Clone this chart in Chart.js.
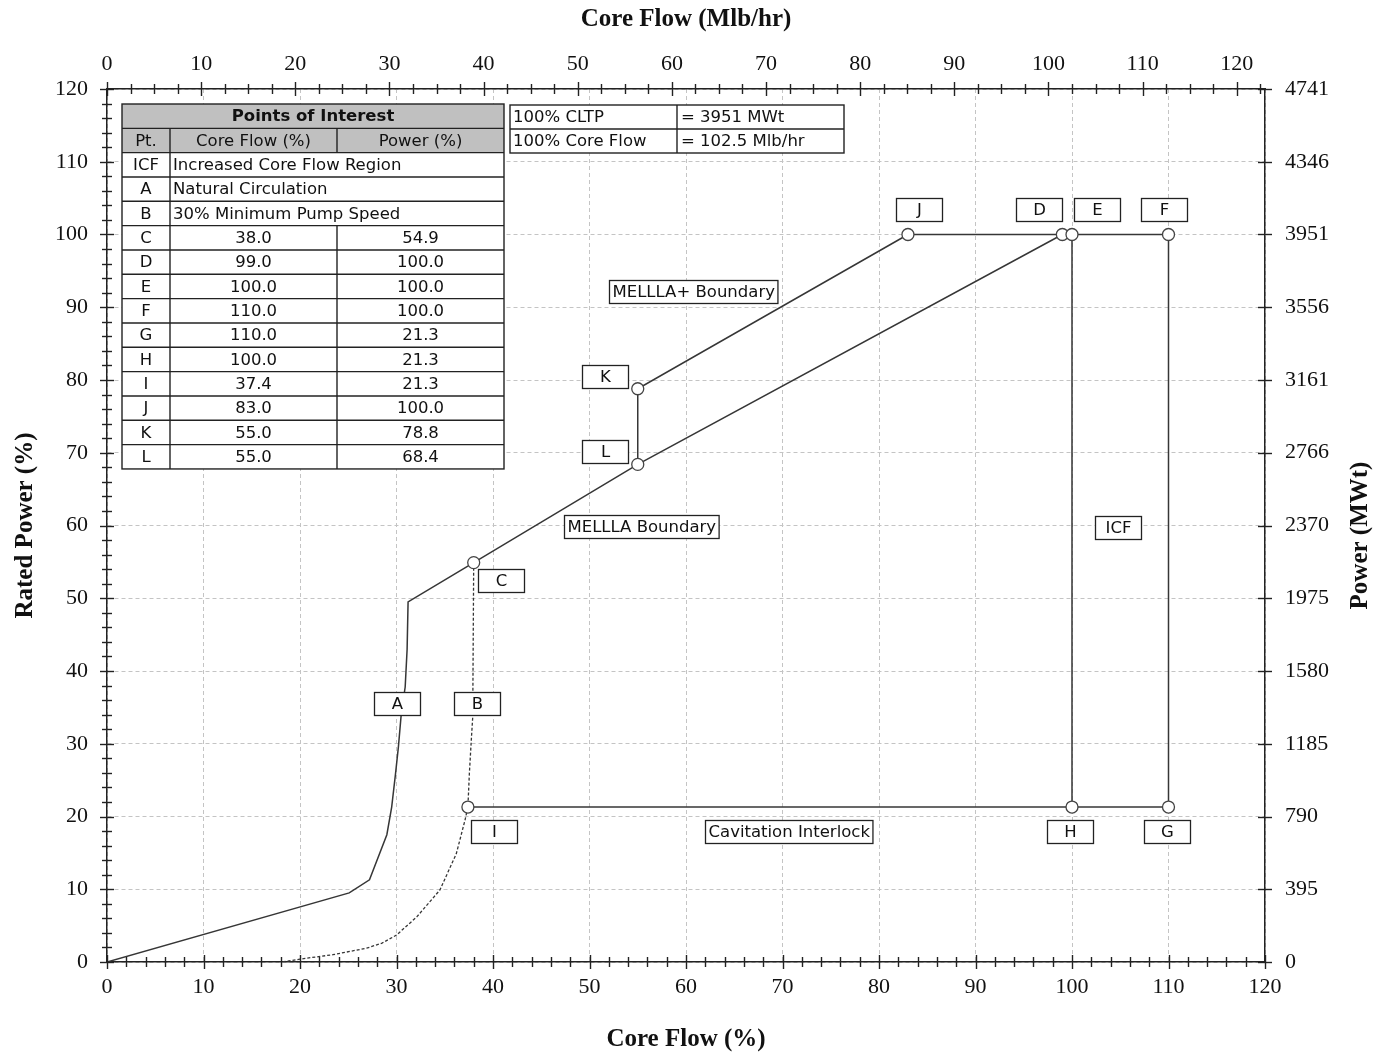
<!DOCTYPE html>
<html>
<head>
<meta charset="utf-8">
<script src="https://cdn.jsdelivr.net/npm/chart.js@4.4.1/dist/chart.umd.min.js"></script>
<style>
html,body{margin:0;padding:0;background:#fff;}
#wrap{position:relative;width:1376px;height:1056px;}
</style>
</head>
<body>
<div id="wrap"><canvas id="c" width="1376" height="1056"></canvas></div>
<script>
// ---------------- DATA ----------------
const ratedCoreFlowMlb = 102.5;   // 100% core flow, Mlb/hr
const cltpMWt = 3951;             // 100% CLTP, MWt

const bottomTickValues = [0,10,20,30,40,50,60,70,80,90,100,110,120];
const topTickValues    = [0,10,20,30,40,50,60,70,80,90,100,110,120];
const leftTickValues   = [0,10,20,30,40,50,60,70,80,90,100,110,120];
const rightTickLabels  = [0,395,790,1185,1580,1975,2370,2766,3161,3556,3951,4346,4741];

const poiNames  = ['C','D','E','F','G','H','I','J','K','L'];
const poiFlow   = [38.0,99.0,100.0,110.0,110.0,100.0,37.4,83.0,55.0,55.0];
const poiPower  = [54.9,100.0,100.0,100.0,21.3,21.3,21.3,100.0,78.8,68.4];

const regionCodes = ['ICF','A','B'];
const regionNames = ['Increased Core Flow Region','Natural Circulation','30% Minimum Pump Speed'];

// Natural circulation line (A)
const natCircFlow  = [0,25.1,27.2,29.0,29.5,29.9,30.2,30.5,30.9,31.1,31.2,38.0];
const natCircPower = [0,9.5,11.3,17.5,21.3,25.9,29.6,34.2,37.8,43.0,49.5,54.9];
// 30% minimum pump speed line (B)
const minPumpFlow  = [18.2,20.0,23.4,26.9,28.5,30.0,32.1,34.5,36.2,37.1,37.4,37.55,37.75,37.9,38.0];
const minPumpPower = [0,0.4,1.0,1.9,2.6,3.7,6.2,9.9,14.9,19.5,21.3,25.9,30.5,33.7,54.9];

// Boundary paths through points of interest
const mellaPath       = ['C','L','D'];
const mellaPlusPath   = ['L','K','J'];
const fullPowerPath   = ['J','D','E','F'];
const icfLeftPath     = ['E','H'];
const icfRightPath    = ['F','G'];
const cavitationPath  = ['I','H','G'];

// Text labels (anchored in data units: core flow %, power %)
const labelText  = ['J','D','E','F','K','L','C','A','B','I','H','G','ICF','MELLLA+ Boundary','MELLLA Boundary','Cavitation Interlock'];
const labelFlow  = [84.1,96.6,102.6,109.5,51.6,51.6,40.8,30.05,38.3,40.1,99.8,109.8,104.8,60.7,55.4,70.6];
const labelPower = [103.5,103.5,103.5,103.5,80.5,70.2,52.4,35.6,35.6,18.0,18.0,18.0,59.7,92.2,59.8,18.0];

// ---------------- HELPERS ----------------
const pt = n => { const i = poiNames.indexOf(n); return {x: poiFlow[i], y: poiPower[i]}; };
const pathData = arr => arr.map(pt);
const zip = (xs, ys) => xs.map((v,i)=>({x:v, y:ys[i]}));

const LINE = '#363636';
const SANS = "'DejaVu Sans', Verdana, sans-serif";
const SERIF = "'Liberation Serif', 'Times New Roman', serif";
const TXT = 16.5;

const lineDs = (data, extra) => Object.assign({
  data, showLine:true, borderColor:LINE, borderWidth:1.5, pointRadius:0, fill:false, tension:0
}, extra||{});

// ---------------- PLUGINS ----------------
const tickMarks = {
  id:'tickMarks',
  afterDraw(chart){
    const ctx = chart.ctx; const s = chart.scales;
    ctx.save(); ctx.strokeStyle = '#222'; ctx.lineWidth = 1.4;
    const seg = (a,b,c,d)=>{ctx.beginPath();ctx.moveTo(a,b);ctx.lineTo(c,d);ctx.stroke();};
    for (let i=0;i<=60;i++){ const v=2*i, p=Math.round(s.x.getPixelForValue(v))+0.5, L=(v%10===0)?7:5; seg(p,s.x.top-L,p,s.x.top+L); }
    for (let i=0;i<=49;i++){ const v=2.5*i, p=Math.round(s.x2.getPixelForValue(v))+0.5, L=(i%4===0)?7:5; seg(p,s.x2.bottom-L,p,s.x2.bottom+L); }
    for (let i=0;i<=60;i++){ const v=2*i, p=Math.round(s.y.getPixelForValue(v))+0.5, L=(v%10===0)?7:5; seg(s.y.right-L,p,s.y.right+L,p); }
    rightTickLabels.forEach(v=>{ const p=Math.round(s.y2.getPixelForValue(v))+0.5; seg(s.y2.left-7,p,s.y2.left+7,p); });
    // right axis title, reading bottom-to-top
    const ca = chart.chartArea;
    ctx.translate(s.y2.right-15, (ca.top+ca.bottom)/2 + 10);
    ctx.rotate(-Math.PI/2);
    ctx.font = 'bold 25px ' + SERIF; ctx.fillStyle='#111';
    ctx.textAlign='center'; ctx.textBaseline='middle';
    ctx.fillText('Power (MWt)', 0, 0);
    ctx.restore();
  }
};

const labelBoxes = {
  id:'labelBoxes',
  afterDatasetsDraw(chart){
    const ctx = chart.ctx; const sx = chart.scales.x, sy = chart.scales.y;
    ctx.save();
    ctx.font = TXT + 'px ' + SANS;
    ctx.textAlign='center'; ctx.textBaseline='middle';
    labelText.forEach((t,i)=>{
      const cx = sx.getPixelForValue(labelFlow[i]);
      const cy = sy.getPixelForValue(labelPower[i]);
      const w = Math.max(46, ctx.measureText(t).width + 6);
      const h = 23;
      const x0 = Math.round(cx - w/2)+0.5, y0 = Math.round(cy - h/2)+0.5;
      ctx.fillStyle='#fff'; ctx.fillRect(x0,y0,w,h);
      ctx.strokeStyle='#222'; ctx.lineWidth=1.3; ctx.strokeRect(x0,y0,w,h);
      ctx.fillStyle='#111'; ctx.fillText(t, x0+w/2, y0+h/2+1);
    });
    ctx.restore();
  }
};

const tables = {
  id:'tables',
  afterDatasetsDraw(chart){
    const ctx = chart.ctx; const ca = chart.chartArea;
    ctx.save();
    const L = ca.left+15, T = ca.top+15, cw=[48,167,167], rh=24.33;
    const W = cw[0]+cw[1]+cw[2];
    const nRows = 2 + regionCodes.length + poiNames.length;
    const H = nRows*rh;
    const c1 = L+cw[0], c2 = L+cw[0]+cw[1];
    ctx.fillStyle='#fff'; ctx.fillRect(L,T,W,H);
    ctx.fillStyle='#c0c0c0'; ctx.fillRect(L,T,W,2*rh);
    ctx.fillStyle='#111'; ctx.textBaseline='middle';
    ctx.font = 'bold ' + TXT + 'px ' + SANS; ctx.textAlign='center';
    ctx.fillText('Points of Interest', L+W/2, T+rh/2+1);
    ctx.font = TXT + 'px ' + SANS;
    ctx.fillText('Pt.', L+cw[0]/2, T+1.5*rh+1);
    ctx.fillText('Core Flow (%)', c1+cw[1]/2, T+1.5*rh+1);
    ctx.fillText('Power (%)', c2+cw[2]/2, T+1.5*rh+1);
    regionCodes.forEach((c,i)=>{
      const yy = T+(2+i+0.5)*rh+1;
      ctx.textAlign='center'; ctx.fillText(c, L+cw[0]/2, yy);
      ctx.textAlign='left'; ctx.fillText(regionNames[i], c1+3, yy);
    });
    ctx.textAlign='center';
    poiNames.forEach((n,i)=>{
      const yy = T+(2+regionCodes.length+i+0.5)*rh+1;
      ctx.fillText(n, L+cw[0]/2, yy);
      ctx.fillText(poiFlow[i].toFixed(1), c1+cw[1]/2, yy);
      ctx.fillText(poiPower[i].toFixed(1), c2+cw[2]/2, yy);
    });
    ctx.strokeStyle='#222'; ctx.lineWidth=1.4;
    const seg=(a,b,c,d)=>{ctx.beginPath();ctx.moveTo(a,b);ctx.lineTo(c,d);ctx.stroke();};
    ctx.strokeRect(L,T,W,H);
    for (let r=1;r<nRows;r++) seg(L,T+r*rh,L+W,T+r*rh);
    seg(c1,T+rh,c1,T+H);
    seg(c2,T+rh,c2,T+2*rh);
    seg(c2,T+(2+regionCodes.length)*rh,c2,T+H);

    const L2 = ca.left+403, T2 = ca.top+16, w2=[167,167], rh2=24;
    ctx.fillStyle='#fff'; ctx.fillRect(L2,T2,w2[0]+w2[1],2*rh2);
    ctx.fillStyle='#111'; ctx.textAlign='left'; ctx.font=TXT + 'px ' + SANS;
    ctx.fillText('100% CLTP', L2+3, T2+rh2/2+1);
    ctx.fillText('= ' + cltpMWt + ' MWt', L2+w2[0]+4, T2+rh2/2+1);
    ctx.fillText('100% Core Flow', L2+3, T2+1.5*rh2+1);
    ctx.fillText('= ' + ratedCoreFlowMlb.toFixed(1) + ' Mlb/hr', L2+w2[0]+4, T2+1.5*rh2+1);
    ctx.strokeRect(L2,T2,w2[0]+w2[1],2*rh2);
    seg(L2,T2+rh2,L2+w2[0]+w2[1],T2+rh2);
    seg(L2+w2[0],T2,L2+w2[0],T2+2*rh2);
    ctx.restore();
  }
};

// ---------------- CHART ----------------
const tickFont = {family: SERIF, size: 22};
const titleFont = {family: SERIF, size: 25, weight: 'bold'};
const setTicks = vals => (scale => { scale.ticks = vals.map(v=>({value:v})); });
const gridOpts = {color:'#c4c4c4', lineWidth:1, drawTicks:false};
const borderOpts = {color:'#222', width:1.5, dash:[4,3]};

new Chart(document.getElementById('c'), {
  type:'scatter',
  data:{
    datasets:[
      { data: poiNames.map(pt), showLine:false, pointRadius:6, pointHoverRadius:6,
        pointBackgroundColor:'#fff', pointBorderColor:'#444', pointBorderWidth:1.3 },
      lineDs(zip(natCircFlow, natCircPower)),
      lineDs(zip(minPumpFlow, minPumpPower), {borderDash:[3,2], borderWidth:1.3}),
      lineDs(pathData(mellaPath)),
      lineDs(pathData(mellaPlusPath)),
      lineDs(pathData(fullPowerPath)),
      lineDs(pathData(icfLeftPath)),
      lineDs(pathData(icfRightPath)),
      lineDs(pathData(cavitationPath))
    ]
  },
  options:{
    responsive:false, animation:false, devicePixelRatio:1,
    layout:{padding:0},
    plugins:{legend:{display:false}, tooltip:{enabled:false}},
    scales:{
      x:{ type:'linear', position:'bottom', min:0, max:120,
          afterBuildTicks:setTicks(bottomTickValues),
          afterFit:s=>{s.height=94;},
          ticks:{font:tickFont, color:'#111', padding:12, maxRotation:0, autoSkip:false},
          grid:gridOpts, border:borderOpts,
          title:{display:true, text:'Core Flow (%)', font:titleFont, color:'#111', padding:{top:0,bottom:1}} },
      x2:{ type:'linear', position:'top', min:0, max:120*ratedCoreFlowMlb/100,
          afterBuildTicks:setTicks(topTickValues),
          afterFit:s=>{s.height=89;},
          ticks:{font:tickFont, color:'#111', padding:12, maxRotation:0, autoSkip:false},
          grid:{display:true, drawOnChartArea:false, drawTicks:false},
          border:{color:'#222', width:1.5},
          title:{display:true, text:'Core Flow (Mlb/hr)', font:titleFont, color:'#111', padding:{top:5,bottom:0}} },
      y:{ type:'linear', position:'left', min:0, max:120,
          afterBuildTicks:setTicks(leftTickValues),
          afterFit:s=>{s.width=107;},
          ticks:{font:tickFont, color:'#111', padding:19, autoSkip:false},
          grid:gridOpts, border:borderOpts,
          title:{display:true, text:'Rated Power (%)', font:titleFont, color:'#111', padding:{top:11,bottom:0}} },
      y2:{ type:'linear', position:'right', min:0, max:120*cltpMWt/100,
          afterBuildTicks:setTicks(rightTickLabels),
          afterFit:s=>{s.width=111;},
          ticks:{font:tickFont, color:'#111', padding:20, autoSkip:false, callback:v=>String(v)},
          grid:{display:true, drawOnChartArea:false, drawTicks:false},
          border:{color:'#222', width:1.5},
          title:{display:false} }
    }
  },
  plugins:[tables, labelBoxes, tickMarks]
});
</script>
</body>
</html>
